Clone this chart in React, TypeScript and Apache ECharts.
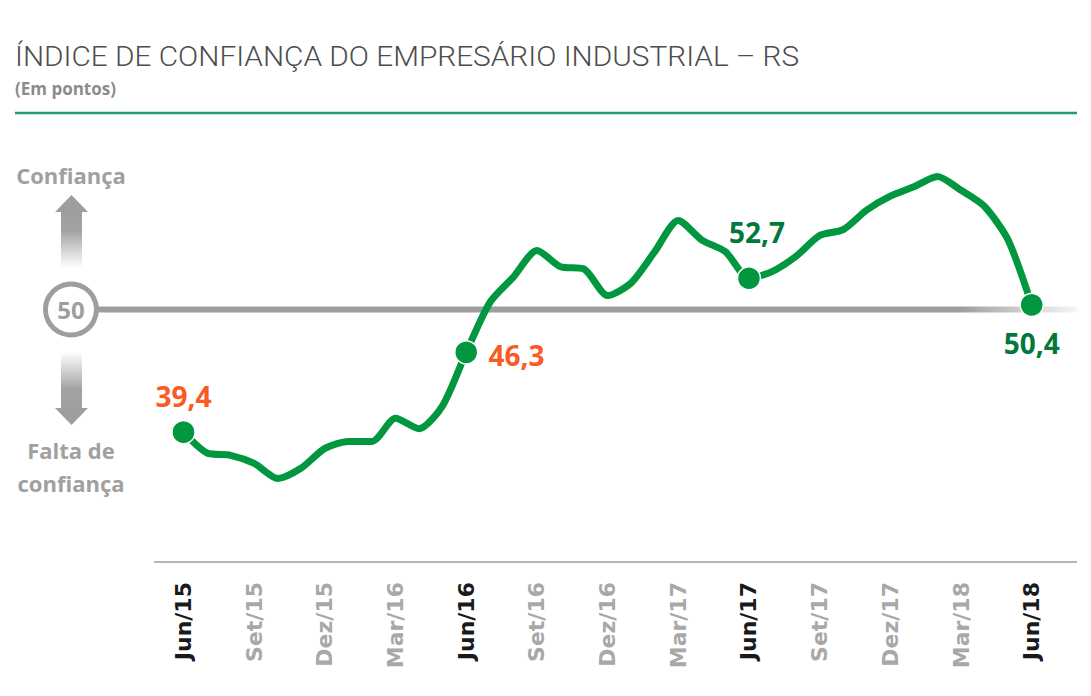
import React, { useEffect, useRef } from "react";
import * as echarts from "echarts";

const TITLE = "ÍNDICE DE CONFIANÇA DO EMPRESÁRIO INDUSTRIAL – RS";
const SUBTITLE = "(Em pontos)";
const UP_LABEL = "Confiança";
const DOWN_LABEL_1 = "Falta de";
const DOWN_LABEL_2 = "confiança";
const REFERENCE = 50;

const months = [
  "Jun/15", "Jul/15", "Ago/15", "Set/15", "Out/15", "Nov/15", "Dez/15",
  "Jan/16", "Fev/16", "Mar/16", "Abr/16", "Mai/16", "Jun/16", "Jul/16",
  "Ago/16", "Set/16", "Out/16", "Nov/16", "Dez/16", "Jan/17", "Fev/17",
  "Mar/17", "Abr/17", "Mai/17", "Jun/17", "Jul/17", "Ago/17", "Set/17",
  "Out/17", "Nov/17", "Dez/17", "Jan/18", "Fev/18", "Mar/18", "Abr/18",
  "Mai/18", "Jun/18",
];

const values = [
  39.4, 37.6, 37.4, 36.7, 35.4, 36.3, 38.0, 38.6, 38.6, 40.6, 39.7, 41.7,
  46.3, 50.6, 52.8, 55.1, 53.7, 53.5, 51.2, 52.3, 55.0, 57.7, 56.0, 55.0,
  52.7, 53.3, 54.6, 56.4, 56.9, 58.6, 59.8, 60.6, 61.5, 60.3, 58.9, 56.0,
  50.4,
];

const highlightIdx = [0, 12, 24, 36];

const GREEN = "#00973f";
const DARK_GREEN = "#00793a";
const ORANGE = "#fa5a24";
const GRAY = "#9e9e9e";

const labelPlacement: Record<number, any> = {
  0: { position: "top", distance: 10, offset: [0, 0] },
  12: { position: "right", distance: 10, offset: [0, 3] },
  24: { position: "top", distance: 20, offset: [8, 0] },
  36: { position: "bottom", distance: 12, offset: [0, 0] },
};

const fmt = (v: number) => v.toFixed(1).replace(".", ",");

function measure(text: string, font: string) {
  const c = document.createElement("canvas").getContext("2d");
  if (!c) return 0;
  c.font = font;
  return c.measureText(text).width;
}

export default function App() {
  const ref = useRef<HTMLDivElement>(null);
  useEffect(() => {
    if (!ref.current) return;
    const chart = echarts.init(ref.current, undefined, { renderer: "svg" });

    const seriesData = values.map((v, i) => {
      if (!highlightIdx.includes(i)) return { value: v, symbol: "none" };
      const p = labelPlacement[i];
      return {
        value: v,
        symbol: "circle",
        symbolSize: 23,
        itemStyle: { color: GREEN, borderColor: "#ffffff", borderWidth: 1.5 },
        label: {
          show: true,
          position: p.position,
          distance: p.distance,
          offset: p.offset,
          formatter: () => fmt(v),
          color: v < REFERENCE ? ORANGE : DARK_GREEN,
          fontFamily: "Open Sans",
          fontWeight: "bold",
          fontSize: 28,
        },
      };
    });

    chart.setOption({
      animation: false,
      backgroundColor: "#ffffff",
      grid: { left: 183.5, right: 59.3, top: 147.5, bottom: 134 },
      xAxis: {
        type: "category",
        data: months,
        boundaryGap: false,
        axisLine: { show: false },
        axisTick: { show: false },
        splitLine: { show: false },
        axisLabel: {
          interval: 2,
          rotate: 90,
          margin: 20,
          formatter: (v: string) => (v.startsWith("Jun") ? `{b|${v}}` : `{g|${v}}`),
          rich: {
            b: { color: "#1a1a1a", fontFamily: "DejaVu Sans", fontWeight: "bold", fontSize: 22 },
            g: { color: "#a8a8a8", fontFamily: "DejaVu Sans", fontWeight: "bold", fontSize: 22 },
          },
        },
      },
      yAxis: {
        type: "value",
        min: 28.18,
        max: 64,
        show: false,
        splitLine: { show: false },
      },
      series: [
        {
          type: "line",
          data: seriesData,
          smooth: 0.25,
          showAllSymbol: true,
          z: 5,
          lineStyle: { color: GREEN, width: 7, cap: "round", join: "round" },
          itemStyle: { color: GREEN },
          emphasis: { disabled: true },
        },
      ],
    });

    const y50 = chart.convertToPixel({ yAxisIndex: 0 }, REFERENCE) as number;

    const titleFont = "300 28px Roboto";
    const tw = measure(TITLE, titleFont) || 785;
    const titleScale = 785 / tw;

    chart.setOption({
      graphic: [
        {
          type: "text",
          x: 15,
          y: 56,
          scaleX: titleScale,
          style: {
            text: TITLE,
            fontFamily: "Roboto",
            fontWeight: 300,
            fontSize: 28,
            fill: "#4d4d4d",
            textAlign: "left",
            textVerticalAlign: "middle",
          },
        },
        {
          type: "text",
          x: 15,
          y: 88,
          style: {
            text: SUBTITLE,
            fontFamily: "Open Sans",
            fontWeight: "bold",
            fontSize: 17,
            fill: "#8c8c8c",
            textAlign: "left",
            textVerticalAlign: "middle",
          },
        },
        {
          type: "line",
          shape: { x1: 15, y1: 113, x2: 1077, y2: 113 },
          style: { stroke: "#1f9d6e", lineWidth: 2.5 },
        },
        // reference line at 50
        {
          type: "rect",
          z: 0,
          shape: { x: 98, y: y50 - 3, width: 979, height: 6 },
          style: {
            fill: new echarts.graphic.LinearGradient(0, 0, 1, 0, [
              { offset: 0, color: GRAY },
              { offset: 0.88, color: GRAY },
              { offset: 1, color: "rgba(158,158,158,0.08)" },
            ]),
          },
        },
        {
          type: "circle",
          z: 1,
          shape: { cx: 71, cy: y50, r: 25.5 },
          style: { fill: "#ffffff", stroke: GRAY, lineWidth: 5 },
        },
        {
          type: "text",
          z: 2,
          x: 71,
          y: y50,
          style: {
            text: String(REFERENCE),
            fontFamily: "Open Sans",
            fontWeight: "bold",
            fontSize: 24,
            fill: GRAY,
            textAlign: "center",
            textVerticalAlign: "middle",
          },
        },
        // up arrow
        {
          type: "rect",
          shape: { x: 61, y: 211, width: 21, height: 57 },
          style: {
            fill: new echarts.graphic.LinearGradient(0, 0, 0, 1, [
              { offset: 0, color: GRAY },
              { offset: 0.35, color: "#a3a3a3" },
              { offset: 1, color: "#ffffff" },
            ]),
          },
        },
        {
          type: "polygon",
          shape: { points: [[55, 212], [88, 212], [71.5, 195]] },
          style: { fill: GRAY },
        },
        // down arrow
        {
          type: "rect",
          shape: { x: 61, y: 352, width: 21, height: 57 },
          style: {
            fill: new echarts.graphic.LinearGradient(0, 0, 0, 1, [
              { offset: 0, color: "#ffffff" },
              { offset: 0.65, color: "#a3a3a3" },
              { offset: 1, color: GRAY },
            ]),
          },
        },
        {
          type: "polygon",
          shape: { points: [[55, 408], [88, 408], [71.5, 425]] },
          style: { fill: GRAY },
        },
        {
          type: "text",
          x: 71,
          y: 175,
          style: {
            text: UP_LABEL,
            fontFamily: "Open Sans",
            fontWeight: "bold",
            fontSize: 22,
            fill: "#a0a0a0",
            textAlign: "center",
            textVerticalAlign: "middle",
          },
        },
        {
          type: "text",
          x: 71,
          y: 450,
          style: {
            text: DOWN_LABEL_1,
            fontFamily: "Open Sans",
            fontWeight: "bold",
            fontSize: 22,
            fill: "#a0a0a0",
            textAlign: "center",
            textVerticalAlign: "middle",
          },
        },
        {
          type: "text",
          x: 71,
          y: 483,
          style: {
            text: DOWN_LABEL_2,
            fontFamily: "Open Sans",
            fontWeight: "bold",
            fontSize: 22,
            fill: "#a0a0a0",
            textAlign: "center",
            textVerticalAlign: "middle",
          },
        },
        // x baseline
        {
          type: "line",
          shape: { x1: 154, y1: 562, x2: 1077, y2: 562 },
          style: { stroke: "#b5b5b5", lineWidth: 2 },
        },
      ],
    });

    return () => chart.dispose();
  }, []);

  return (
    <div
      ref={ref}
      style={{ position: "fixed", left: 0, top: 0, width: 1091, height: 696, background: "#ffffff" }}
    />
  );
}
